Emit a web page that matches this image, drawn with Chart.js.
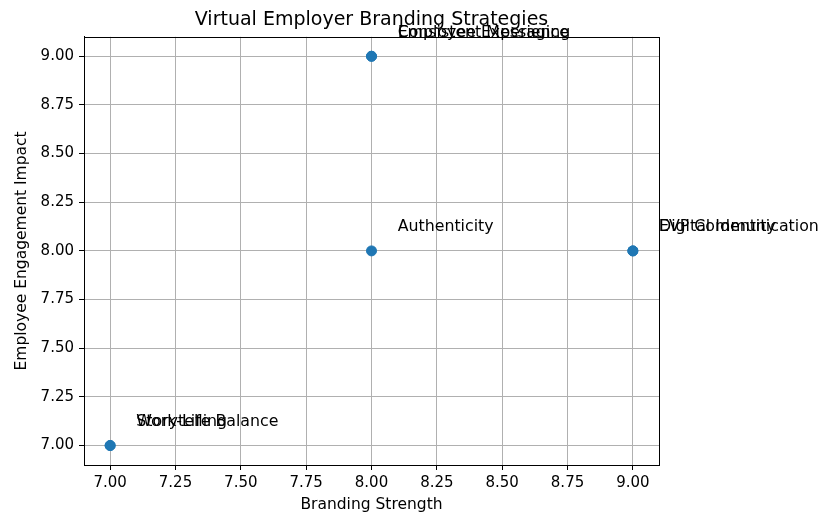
<!DOCTYPE html>
<html lang="en">
<head>
  <meta charset="UTF-8">
  <title>Virtual Employer Branding Strategies</title>
  <script src="https://cdn.jsdelivr.net/npm/chart.js"></script>
  <style>
    html, body {
      margin: 0;
      padding: 0;
      background: #fff;
    }
    #chart {
      display: block;
    }
  </style>
</head>
<body>
<canvas id="chart" width="821" height="514"></canvas>

<script>
  // Data
  const strategies = ['Employee Experience', 'Consistent Messaging', 'Authenticity', 'EVP Communication', 'Digital Identity', 'Work-Life Balance', 'Storytelling'];
  const brandingStrength = [8, 8, 8, 9, 9, 7, 7];
  const engagementImpact = [9, 9, 8, 8, 8, 7, 7];
  const axisTicks = [7, 7.25, 7.5, 7.75, 8, 8.25, 8.5, 8.75, 9];
  const labelOffset = 0.1;

  const FONT = "'DejaVu Sans', sans-serif";

  // frame around the plot area (matplotlib spines)
  const framePlugin = {
    id: 'frame',
    afterDraw(chart) {
      const { ctx, chartArea: a } = chart;
      ctx.save();
      ctx.strokeStyle = '#000';
      ctx.lineWidth = 1;
      ctx.strokeRect(Math.round(a.left) + 0.5, Math.round(a.top) + 0.5, Math.round(a.right - a.left), Math.round(a.bottom - a.top));
      ctx.restore();
    }
  };

  // text labels next to each point
  const labelPlugin = {
    id: 'pointLabels',
    afterDraw(chart) {
      const { ctx, scales } = chart;
      ctx.save();
      ctx.font = '15.8px ' + FONT;
      ctx.fillStyle = '#000';
      ctx.textAlign = 'left';
      ctx.textBaseline = 'alphabetic';
      strategies.forEach((name, i) => {
        const px = scales.x.getPixelForValue(brandingStrength[i] + labelOffset);
        const py = scales.y.getPixelForValue(engagementImpact[i] + labelOffset);
        ctx.fillText(name, px, py);
      });
      ctx.restore();
    }
  };

  new Chart(document.getElementById('chart'), {
    type: 'scatter',
    data: {
      datasets: [{
        label: 'Strategies',
        data: brandingStrength.map((x, i) => ({ x: x, y: engagementImpact[i] })),
        backgroundColor: '#1f77b4',
        borderColor: '#1f77b4',
        pointRadius: 5,
        pointHoverRadius: 5
      }]
    },
    options: {
      responsive: false,
      animation: false,
      layout: {
        padding: { left: 0, right: 162, top: 0, bottom: 0 }
      },
      plugins: {
        legend: { display: false },
        tooltip: { enabled: false },
        title: {
          display: true,
          text: 'Virtual Employer Branding Strategies',
          fullSize: false,
          color: '#000',
          font: { family: FONT, size: 19, weight: 'normal' },
          padding: { top: 9, bottom: 5 }
        }
      },
      scales: {
        x: {
          type: 'linear',
          min: 6.9,
          max: 9.1,
          z: 1,
          afterBuildTicks(scale) {
            scale.ticks = axisTicks.map(v => ({ value: v }));
          },
          afterFit(scale) { scale.height = 49; },
          ticks: {
            color: '#000',
            padding: 4,
            font: { family: FONT, size: 15 },
            callback: v => v.toFixed(2)
          },
          grid: { color: '#b0b0b0', lineWidth: 1, tickColor: '#000', tickLength: 5 },
          border: { color: '#000', width: 1 },
          title: {
            display: true,
            text: 'Branding Strength',
            color: '#000',
            font: { family: FONT, size: 15.5 },
            padding: { top: 0, bottom: 0 }
          }
        },
        y: {
          type: 'linear',
          min: 6.9,
          max: 9.1,
          z: 1,
          afterBuildTicks(scale) {
            scale.ticks = axisTicks.map(v => ({ value: v }));
          },
          afterFit(scale) { scale.width = 84; },
          ticks: {
            color: '#000',
            padding: 5,
            font: { family: FONT, size: 15 },
            callback: v => v.toFixed(2)
          },
          grid: { color: '#b0b0b0', lineWidth: 1, tickColor: '#000', tickLength: 5 },
          border: { color: '#000', width: 1 },
          title: {
            display: true,
            text: 'Employee Engagement Impact',
            color: '#000',
            font: { family: FONT, size: 15.5 },
            padding: { top: 13, bottom: 0 }
          }
        }
      }
    },
    plugins: [framePlugin, labelPlugin]
  });
</script>
</body>
</html>
